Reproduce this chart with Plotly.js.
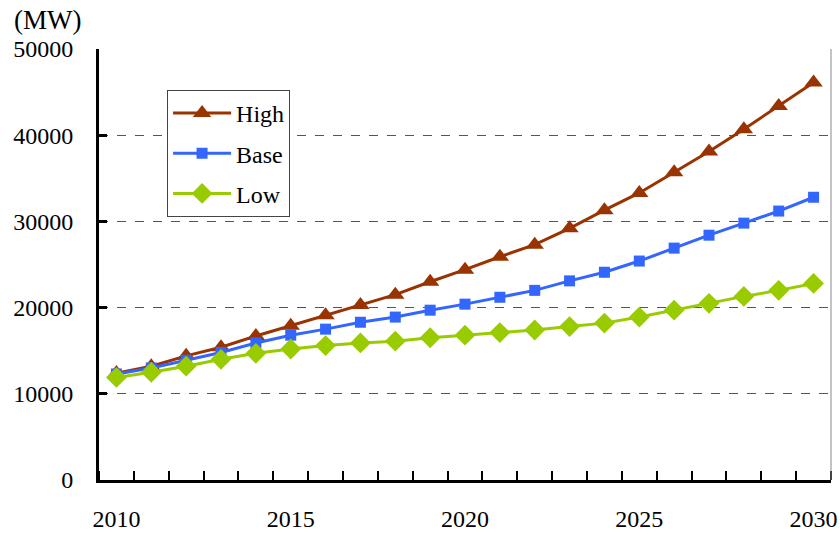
<!DOCTYPE html>
<html>
<head>
<meta charset="utf-8">
<script src="https://cdn.plot.ly/plotly-3.0.1.min.js"></script>
<style>html,body{margin:0;padding:0;background:#fff;}#chart{width:840px;height:537px;}</style>
</head>
<body>
<div id="chart"></div>
<script>
const years = [2010,2011,2012,2013,2014,2015,2016,2017,2018,2019,2020,2021,2022,2023,2024,2025,2026,2027,2028,2029,2030];
const high = [12400,13200,14400,15400,16700,17900,19100,20300,21500,23000,24400,25900,27300,29200,31300,33300,35700,38100,40700,43400,46100];
const base = [12300,13000,13900,14800,15900,16800,17500,18300,18900,19700,20400,21200,22000,23100,24100,25400,26900,28400,29800,31200,32800];
const low  = [11900,12500,13200,14000,14700,15200,15600,15900,16100,16500,16800,17100,17400,17800,18200,18900,19700,20500,21300,22000,22800];
const seriesNames = ['High','Base','Low'];
const xTickLabels = ['2010','2015','2020','2025','2030'];
const xTickVals = [2010,2015,2020,2025,2030];

const font = {family: 'Liberation Serif, Times New Roman, serif', size: 24, color: '#000'};

const traces = [
  {x: years, y: high, name: seriesNames[0], legendgroup: 'g1', mode: 'lines+markers',
   line: {color: '#993300', width: 3}, marker: {symbol: 'triangle-up', size: 16, color: '#993300'}},
  {x: years, y: base, name: seriesNames[1], legendgroup: 'g2', mode: 'lines+markers',
   line: {color: '#3366FF', width: 3}, marker: {symbol: 'square', size: 11, color: '#3366FF'}},
  {x: years, y: low, name: seriesNames[2], legendgroup: 'g3', mode: 'lines+markers',
   line: {color: '#99CC00', width: 3}, marker: {symbol: 'diamond', size: 16, color: '#99CC00'}}
];

const layout = {
  width: 840, height: 537,
  margin: {l: 99, r: 9, t: 49, b: 57},
  paper_bgcolor: '#fff', plot_bgcolor: '#fff',
  font: font,
  showlegend: true,
  legend: {x: 0.093, y: 0.905, xanchor: 'left', yanchor: 'top',
    bgcolor: '#fff', bordercolor: '#444', borderwidth: 1,
    font: font, traceorder: 'grouped', tracegroupgap: 6, itemwidth: 58},
  xaxis: {range: [2009.5, 2030.5], tickvals: xTickVals, ticktext: xTickLabels,
    ticks: '', showgrid: false, zeroline: false,
    showline: true, linecolor: '#000', linewidth: 3,
    ticklabelstandoff: 15, tickfont: font,
    minor: {ticks: 'inside', tick0: 2009.5, dtick: 1, ticklen: 9, tickwidth: 2, tickcolor: '#000', showgrid: false}},
  yaxis: {range: [0, 50000], dtick: 10000, tickformat: 'd',
    ticks: 'inside', ticklen: 8, tickwidth: 3, tickcolor: '#000',
    showgrid: true, gridcolor: '#555', griddash: 'dash', gridwidth: 1,
    zeroline: false, showline: true, linecolor: '#000', linewidth: 3,
    ticklabelstandoff: 18, tickfont: font},
  shapes: [
    {type: 'line', xref: 'paper', yref: 'paper', x0: 1, x1: 1, y0: 0, y1: 1, line: {color: '#888', width: 1}}
  ],
  annotations: [
    {text: '(MW)', xref: 'paper', yref: 'paper', x: -0.119, y: 1.068, xanchor: 'left', yanchor: 'middle', showarrow: false,
     font: {family: font.family, size: 27, color: '#000'}}
  ]
};

Plotly.newPlot('chart', traces, layout, {displayModeBar: false, staticPlot: true});
</script>
</body>
</html>
